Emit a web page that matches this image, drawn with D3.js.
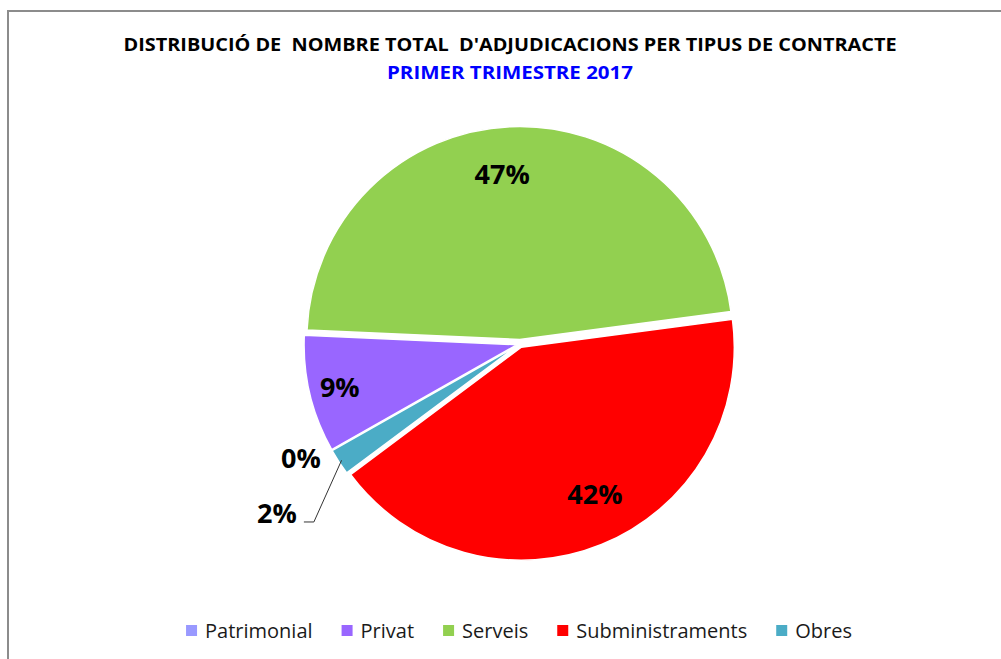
<!DOCTYPE html>
<html>
<head>
<meta charset="utf-8">
<script src="https://cdn.jsdelivr.net/npm/d3@7"></script>
<style>
  html, body { margin: 0; padding: 0; background: #ffffff; }
  svg { display: block; }
</style>
</head>
<body>
<script>
// ---- data ----
const categories = ["Patrimonial", "Privat", "Serveis", "Subministraments", "Obres"];
const values = [0, 8.9, 47.2, 41.9, 2.0]; // percent
const titleLine1 = "DISTRIBUCIÓ DE  NOMBRE TOTAL  D'ADJUDICACIONS PER TIPUS DE CONTRACTE";
const titleLine2 = "PRIMER TRIMESTRE 2017";

// ---- styles ----
const colors = ["#9999ff", "#9966ff", "#92d050", "#ff0000", "#4bacc6"];
const explode = [3, 3, 4.5, 3.5, 3];
const W = 1001, H = 659;
const cx = 520, cy = 344, R = 213;
const deg = Math.PI / 180;

const svg = d3.select("body").append("svg").attr("width", W).attr("height", H);

// frame
svg.append("rect").attr("x", 8).attr("y", 11).attr("width", W + 20).attr("height", H + 20)
  .attr("fill", "none").attr("stroke", "#8c8c8c").attr("stroke-width", 2);

// titles
svg.append("text").attr("x", 510).attr("y", 51).attr("text-anchor", "middle")
  .attr("font-family", "'Open Sans', sans-serif").attr("font-weight", "bold").attr("font-size", 18)
  .attr("textLength", 773).attr("lengthAdjust", "spacingAndGlyphs")
  .attr("fill", "#000").style("white-space", "pre").text(titleLine1);
svg.append("text").attr("x", 510).attr("y", 79).attr("text-anchor", "middle")
  .attr("font-family", "'Open Sans', sans-serif").attr("font-weight", "bold").attr("font-size", 18)
  .attr("textLength", 246).attr("lengthAdjust", "spacingAndGlyphs")
  .attr("fill", "#0000ff").text(titleLine2);

// pie
const pie = d3.pie().sort(null).value(d => d.v)
  .startAngle(240.5 * deg).endAngle(240.5 * deg + 2 * Math.PI);
const data = categories.map((c, i) => ({ c, v: values[i], i }));
const arcs = pie(data);
const arc = d3.arc().innerRadius(0).outerRadius(R);

const g = svg.append("g").attr("transform", `translate(${cx},${cy})`);
function off(a, k) {
  const m = (a.startAngle + a.endAngle) / 2;
  return [Math.sin(m) * k, -Math.cos(m) * k];
}
g.selectAll("path.slice").data(arcs.filter(d => d.data.v > 0)).enter().append("path")
  .attr("class", "slice")
  .attr("transform", d => { const o = off(d, explode[d.index]); return `translate(${o[0]},${o[1]})`; })
  .attr("d", arc)
  .attr("fill", d => colors[d.index])
  .attr("stroke", "#ffffff").attr("stroke-width", 1.5);

// labels: radial factor relative to R
const labelR = [1.16, 0.87, 0.80, 0.79, 1.39];
const labelAngleShift = [2.0, 0, -3.5, -4.3, -1.7]; // degrees
const fmt = v => Math.round(v) + "%";
arcs.forEach(d => {
  const m = (d.startAngle + d.endAngle) / 2 + labelAngleShift[d.index] * deg;
  const r = R * labelR[d.index];
  const x = Math.sin(m) * r, y = -Math.cos(m) * r;
  g.append("text").attr("x", x).attr("y", y).attr("dy", "0.36em")
    .attr("text-anchor", "middle")
    .attr("font-family", "'Open Sans', sans-serif").attr("font-weight", "bold").attr("font-size", 27)
    .attr("fill", "#000").text(fmt(d.data.v));
});

// leader line for Obres label
(function () {
  const d = arcs[4];
  const m = (d.startAngle + d.endAngle) / 2;
  const o = off(d, explode[4]);
  const p0 = [Math.sin(m) * (R - 3) + o[0], -Math.cos(m) * (R - 3) + o[1]];
  const ml = m - 1.7 * deg, rl = R * 1.39;
  const lx = Math.sin(ml) * rl, ly = -Math.cos(ml) * rl;
  const p1 = [lx + 37, ly + 9];
  const p2 = [lx + 27, ly + 9];
  g.append("path").attr("d", d3.line()([p0, p1, p2]))
    .attr("fill", "none").attr("stroke", "#333").attr("stroke-width", 1);
})();

// legend
const leg = svg.append("g");
const items = leg.selectAll("g").data(categories).enter().append("g");
items.append("rect").attr("width", 11).attr("height", 11).attr("y", 625)
  .attr("fill", (d, i) => colors[i]);
items.append("text").attr("x", 19).attr("y", 638)
  .attr("font-family", "'Open Sans', sans-serif").attr("font-size", 20).attr("fill", "#1a1a1a")
  .text(d => d);
let xs = 0; const pos = [];
items.each(function () {
  const tw = d3.select(this).select("text").node().getComputedTextLength();
  pos.push(xs); xs += 19 + tw + 29;
});
const total = xs - 29, x0 = 519 - total / 2;
items.attr("transform", (d, i) => `translate(${x0 + pos[i]},0)`);
</script>
</body>
</html>
